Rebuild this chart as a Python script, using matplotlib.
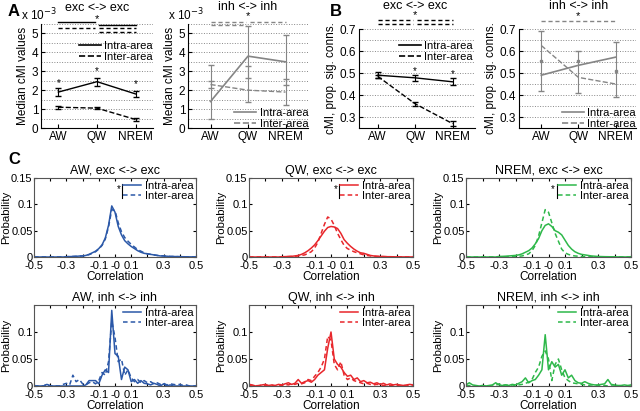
import numpy as np
import matplotlib
matplotlib.use('Agg')
import matplotlib.pyplot as plt
from matplotlib.lines import Line2D

plt.rcParams['font.family'] = ['Liberation Sans', 'DejaVu Sans']
plt.rcParams['font.size'] = 8.5
plt.rcParams['axes.linewidth'] = 0.8

# ---- data ----
states = ['AW', 'QW', 'NREM']

# A: median cMI values (x 10^-3)
a_exc_intra = [1.9, 2.45, 1.8]
a_exc_intra_err = [0.2, 0.22, 0.18]
a_exc_inter = [1.1, 1.05, 0.45]
a_exc_inter_err = [0.07, 0.07, 0.06]
a_inh_intra = [1.4, 3.8, 3.5]
a_inh_intra_lo = [0.5, 1.4, 1.2]
a_inh_intra_hi = [3.35, 5.4, 4.9]
a_inh_inter = [2.3, 2.0, 1.9]
a_inh_inter_lo = [2.1, 2.65, 2.3]
a_inh_inter_hi = [2.5, 3.3, 2.6]

# B: cMI, proportion of significant connections
b_exc_intra = [0.49, 0.478, 0.46]
b_exc_intra_err = [0.013, 0.015, 0.015]
b_exc_inter = [0.485, 0.36, 0.27]
b_exc_inter_err = [0.008, 0.01, 0.01]
b_inh_intra = [0.49, 0.535, 0.572]
b_inh_intra_lo = [0.42, 0.41, 0.39]
b_inh_intra_hi = [0.69, 0.60, 0.64]
b_inh_inter = [0.625, 0.48, 0.45]
b_inh_mark = [0.555, 0.555, 0.51]

# C: correlation histograms, bin centres -0.5 .. 0.5 (step 0.02)
corr = np.linspace(-0.5, 0.5, 51)

aw_exc_intra = [0, 0, 0, 0, 0, 0, 0, 0, 0, 0,
                0.0005, 0.0008, 0.001, 0.0013, 0.0018,
                0.002, 0.003, 0.005, 0.008, 0.011,
                0.016, 0.023, 0.036, 0.06, 0.097,
                0.085, 0.058, 0.042, 0.031, 0.025,
                0.02, 0.016, 0.012, 0.009, 0.007,
                0.006, 0.005, 0.004, 0.003, 0.002,
                0.002, 0.0015, 0.001, 0.001, 0.0008,
                0.0006, 0.0005, 0.0004, 0.0003, 0.0002, 0.0001]
aw_exc_inter = [0, 0, 0, 0, 0, 0, 0, 0, 0, 0,
                0.0005, 0.0008, 0.001, 0.0013, 0.0017,
                0.002, 0.003, 0.0045, 0.007, 0.01,
                0.015, 0.022, 0.034, 0.057, 0.09,
                0.088, 0.065, 0.048, 0.037, 0.03,
                0.024, 0.019, 0.014, 0.011, 0.008,
                0.006, 0.005, 0.004, 0.003, 0.0025,
                0.002, 0.0015, 0.001, 0.001, 0.0008,
                0.0006, 0.0005, 0.0004, 0.0003, 0.0002, 0.0001]
qw_exc_intra = [0, 0, 0, 0, 0, 0, 0, 0, 0, 0,
                0.0005, 0.0007, 0.001, 0.0013, 0.002,
                0.003, 0.005, 0.008, 0.012, 0.017,
                0.023, 0.031, 0.04, 0.049, 0.056,
                0.058, 0.057, 0.054, 0.045, 0.033,
                0.026, 0.02, 0.015, 0.011, 0.008,
                0.007, 0.005, 0.003, 0.002, 0.0015,
                0.001, 0.0008, 0.0006, 0.0005, 0.0004,
                0.0003, 0.0002, 0.0002, 0.0001, 0.0001, 0.0001]
qw_exc_inter = [0, 0, 0, 0, 0, 0, 0, 0, 0, 0,
                0.0003, 0.0005, 0.0007, 0.001, 0.0013,
                0.002, 0.003, 0.004, 0.007, 0.01,
                0.017, 0.028, 0.045, 0.062, 0.076,
                0.072, 0.06, 0.045, 0.033, 0.022,
                0.016, 0.013, 0.01, 0.008, 0.006,
                0.004, 0.003, 0.002, 0.0015, 0.001,
                0.001, 0.0008, 0.0006, 0.0005, 0.0004,
                0.0003, 0.0002, 0.0002, 0.0001, 0.0001, 0.0001]
nrem_exc_intra = [0, 0, 0, 0, 0, 0, 0, 0, 0, 0,
                  0.001, 0.0012, 0.0015, 0.002, 0.0025,
                  0.003, 0.004, 0.006, 0.009, 0.012,
                  0.017, 0.025, 0.035, 0.05, 0.06,
                  0.063, 0.058, 0.05, 0.047, 0.042,
                  0.032, 0.022, 0.015, 0.01, 0.007,
                  0.005, 0.004, 0.003, 0.002, 0.0015,
                  0.001, 0.0008, 0.0006, 0.0005, 0.0004,
                  0.0003, 0.0002, 0.0002, 0.0001, 0.0001, 0.0001]
nrem_exc_inter = [0, 0, 0, 0, 0, 0, 0, 0, 0, 0,
                  0.0003, 0.0004, 0.0005, 0.0007, 0.0008,
                  0.001, 0.0015, 0.002, 0.004, 0.006,
                  0.012, 0.022, 0.04, 0.065, 0.09,
                  0.085, 0.065, 0.045, 0.03, 0.015,
                  0.008, 0.005, 0.003, 0.002, 0.0015,
                  0.001, 0.0008, 0.0006, 0.0005, 0.0004,
                  0.0003, 0.0002, 0.0002, 0.0001, 0.0001,
                  0, 0, 0, 0, 0, 0]

aw_inh_intra = [0, 0, 0, 0, 0.003, 0, 0, 0, 0, 0,
                0, 0, 0, 0, 0,
                0, 0.002, 0.01, 0.01, 0.01,
                0.004, 0.02, 0.03, 0.025, 0.14,
                0.06, 0.055, 0.012, 0.035, 0.03,
                0.008, 0.012, 0.005, 0.01, 0.005,
                0.004, 0.002, 0.005, 0.003, 0,
                0.004, 0, 0.002, 0, 0,
                0, 0, 0, 0, 0, 0]
aw_inh_inter = [0, 0, 0, 0, 0.004, 0, 0, 0, 0, 0.003,
                0.005, 0.002, 0.02, 0.008, 0.012,
                0.004, 0.002, 0.006, 0.008, 0.004,
                0.01, 0.025, 0.02, 0.045, 0.12,
                0.09, 0.045, 0.05, 0.02, 0.03,
                0.015, 0.008, 0.012, 0.006, 0.01,
                0.006, 0.008, 0.004, 0.006, 0.003,
                0.005, 0.002, 0.004, 0.003, 0.002,
                0.003, 0.001, 0.002, 0, 0, 0]
qw_inh_intra = [0.003, 0.002, 0, 0.001, 0.002, 0.003, 0.001, 0.002, 0.001, 0.003,
                0.002, 0.004, 0.006, 0.003, 0.005,
                0.012, 0.005, 0.008, 0.01, 0.007,
                0.012, 0.02, 0.025, 0.03, 0.07,
                0.1, 0.05, 0.04, 0.035, 0.025,
                0.018, 0.02, 0.012, 0.015, 0.008,
                0.01, 0.006, 0.007, 0.004, 0.006,
                0.003, 0.005, 0.002, 0.004, 0.002,
                0.003, 0.002, 0.001, 0.002, 0.003, 0.002]
qw_inh_inter = [0.001, 0, 0.001, 0, 0.002, 0.001, 0, 0.001, 0, 0.002,
                0.001, 0.003, 0.002, 0.004, 0.003,
                0.005, 0.004, 0.006, 0.012, 0.01,
                0.018, 0.025, 0.035, 0.05, 0.092,
                0.085, 0.04, 0.03, 0.045, 0.02,
                0.012, 0.015, 0.01, 0.008, 0.006,
                0.004, 0.005, 0.003, 0.002, 0.003,
                0.002, 0.001, 0.002, 0.001, 0.001,
                0.001, 0, 0.001, 0, 0.001, 0]
nrem_inh_intra = [0.002, 0.006, 0.002, 0.001, 0, 0.001, 0, 0.001, 0.002, 0.006,
                  0.002, 0.001, 0.002, 0.001, 0.003,
                  0.002, 0.005, 0.008, 0.015, 0.006,
                  0.01, 0.012, 0.02, 0.03, 0.095,
                  0.03, 0.045, 0.035, 0.04, 0.02,
                  0.03, 0.015, 0.02, 0.01, 0.006,
                  0.005, 0.008, 0.005, 0.003, 0.002,
                  0.002, 0.003, 0.004, 0.012, 0.003,
                  0.002, 0.001, 0.001, 0.002, 0.001, 0.002]
nrem_inh_inter = [0, 0.001, 0, 0, 0, 0, 0, 0, 0, 0.001,
                  0.004, 0.001, 0.002, 0.001, 0.002,
                  0.001, 0.002, 0.003, 0.005, 0.007,
                  0.012, 0.025, 0.035, 0.055, 0.065,
                  0.05, 0.01, 0.04, 0.05, 0.03,
                  0.015, 0.01, 0.006, 0.005, 0.004,
                  0.003, 0.002, 0.001, 0.002, 0.001,
                  0.001, 0, 0.001, 0, 0,
                  0, 0, 0, 0, 0, 0]

blue = '#2b58a8'
red = '#e8262b'
green = '#2eb84a'
gray = '#858585'

W, H = 640, 411
fig = plt.figure(figsize=(6.4, 4.11), dpi=100)


def px_axes(l, t, r, b):
    return fig.add_axes([l / W, 1 - b / H, (r - l) / W, (b - t) / H])


def style_ab(ax, ylim, yticks, grid_step, xlim):
    ax.set_xlim(xlim)
    ax.set_ylim(ylim)
    ax.set_xticks([1, 2, 3])
    ax.set_xticklabels(states)
    ax.set_yticks(yticks)
    minor = np.arange(ylim[0], ylim[1] + 1e-9, grid_step)
    ax.set_yticks(minor, minor=True)
    ax.yaxis.grid(True, which='both', ls=':', color='#888888', lw=0.7)
    ax.tick_params(which='minor', length=0)
    ax.tick_params(direction='in', length=3, labelsize=8.5, pad=2)
    ax.spines['top'].set_visible(False)
    ax.spines['right'].set_visible(False)
    ax.set_axisbelow(True)


def sig_line(ax, x0, x1, y, color, ls):
    if ls == '--':
        ax.plot([x0, x1], [y, y], color=color, lw=1, ls='--', dashes=(3, 2), clip_on=False)
    else:
        ax.plot([x0, x1], [y, y], color=color, lw=1, clip_on=False)


def leg(ax, color, **kw):
    handles = [Line2D([], [], color=color, lw=1.2),
               Line2D([], [], color=color, lw=1.2, ls='--')]
    return ax.legend(handles, ['Intra-area', 'Inter-area'], frameon=False, fontsize=8,
                     handlelength=2.0, handletextpad=0.3, labelspacing=0.1,
                     borderpad=0.1, borderaxespad=0.1, **kw)


# ---- A left ----
ax = px_axes(41, 24, 153, 128)
ax.errorbar([1, 2, 3], a_exc_intra, yerr=a_exc_intra_err, color='k', lw=1,
            capsize=2, elinewidth=0.8)
ax.errorbar([1, 2, 3], a_exc_inter, yerr=a_exc_inter_err, color='k', lw=1, ls='--',
            capsize=2, elinewidth=0.8)
for x, y in zip([1, 2, 3], [2.4, 3.0, 2.3]):
    ax.text(x, y, '*', ha='center', va='center', fontsize=7)
style_ab(ax, (0, 5.5), [0, 1, 2, 3, 4, 5], 0.5, (0.55, 3.45))
ax.set_ylabel('Median cMI values', labelpad=2)
leg(ax, 'k', loc='upper right', bbox_to_anchor=(1.02, 0.86))
sig_line(ax, 1.0, 1.95, 5.6, 'k', '-')
sig_line(ax, 2.05, 3.0, 5.47, 'k', '-')
sig_line(ax, 1.0, 1.95, 5.28, 'k', '--')
sig_line(ax, 2.05, 3.0, 5.28, 'k', '--')
sig_line(ax, 2.05, 3.0, 5.08, 'k', '--')
ax.text(2.0, 5.75, '*', ha='center', va='center', fontsize=8)
ax.text(2.0, 6.35, 'exc <-> exc', ha='center', va='center', fontsize=9)
ax.text(-0.02, 1.01, r'x 10$^{-3}$', transform=ax.transAxes, ha='center',
        va='bottom', fontsize=8.5)

# ---- A right ----
ax = px_axes(188, 24, 308, 128)
ax.errorbar([1, 2, 3], a_inh_intra,
            yerr=[np.subtract(a_inh_intra, a_inh_intra_lo), np.subtract(a_inh_intra_hi, a_inh_intra)],
            color=gray, lw=1.2, capsize=2, elinewidth=0.8)
ax.plot([1, 2, 3], a_inh_inter, color=gray, lw=1, ls='--')
ax.errorbar([1, 2, 3], np.add(a_inh_inter_lo, a_inh_inter_hi) / 2,
            yerr=np.subtract(a_inh_inter_hi, a_inh_inter_lo) / 2, fmt='none',
            ecolor=gray, capsize=2, elinewidth=0.8)
style_ab(ax, (0, 5.5), [0, 1, 2, 3, 4, 5], 0.5, (0.4, 3.6))
ax.set_ylabel('Median cMI values', labelpad=2)
leg(ax, gray, loc='lower right', bbox_to_anchor=(1.02, -0.03))
sig_line(ax, 1.0, 1.95, 5.62, gray, '--')
sig_line(ax, 1.0, 1.95, 5.45, gray, '--')
sig_line(ax, 2.05, 3.0, 5.62, gray, '--')
ax.text(2.0, 5.9, '*', ha='center', va='center', fontsize=8)
ax.text(2.0, 6.42, 'inh <-> inh', ha='center', va='center', fontsize=9)
ax.text(-0.02, 1.01, r'x 10$^{-3}$', transform=ax.transAxes, ha='center',
        va='bottom', fontsize=8.5)

# ---- B left ----
ax = px_axes(359, 29, 475, 128)
ax.errorbar([1, 2, 3], b_exc_intra, yerr=b_exc_intra_err, color='k', lw=1,
            capsize=2, elinewidth=0.8)
ax.errorbar([1, 2, 3], b_exc_inter, yerr=b_exc_inter_err, color='k', lw=1, ls='--',
            capsize=2, elinewidth=0.8)
for x, y in zip([2, 3], [0.51, 0.495]):
    ax.text(x, y, '*', ha='center', va='center', fontsize=7)
style_ab(ax, (0.25, 0.7), [0.3, 0.4, 0.5, 0.6, 0.7], 0.05, (0.5, 3.6))
ax.set_ylabel('cMI, prop. sig. conns.', labelpad=2)
leg(ax, 'k', loc='upper right', bbox_to_anchor=(1.0, 0.9))
sig_line(ax, 1.0, 1.95, 0.742, 'k', '--')
sig_line(ax, 1.0, 1.95, 0.724, 'k', '--')
sig_line(ax, 2.05, 3.0, 0.742, 'k', '--')
sig_line(ax, 2.05, 3.0, 0.724, 'k', '--')
ax.text(2.0, 0.763, '*', ha='center', va='center', fontsize=8)
ax.text(2.0, 0.803, 'exc <-> exc', ha='center', va='center', fontsize=9)

# ---- B right ----
ax = px_axes(519, 29, 636, 128)
ax.errorbar([1, 2, 3], b_inh_intra,
            yerr=[np.subtract(b_inh_intra, b_inh_intra_lo), np.subtract(b_inh_intra_hi, b_inh_intra)],
            color=gray, lw=1.2, capsize=2, elinewidth=0.8)
ax.plot([1, 2, 3], b_inh_inter, color=gray, lw=1, ls='--')
ax.plot([1, 2, 3], b_inh_mark, ls='none', marker='s', ms=2, color=gray)
style_ab(ax, (0.25, 0.7), [0.3, 0.4, 0.5, 0.6, 0.7], 0.05, (0.4, 3.55))
ax.set_ylabel('cMI, prop. sig. conns.', labelpad=2)
leg(ax, gray, loc='lower right', bbox_to_anchor=(1.02, -0.03))
sig_line(ax, 1.0, 3.0, 0.737, gray, '--')
ax.text(2.0, 0.758, '*', ha='center', va='center', fontsize=8)
ax.text(2.0, 0.803, 'inh <-> inh', ha='center', va='center', fontsize=9)

# ---- C ----
rows = [
    [('AW, exc <-> exc', aw_exc_intra, aw_exc_inter, blue),
     ('QW, exc <-> exc', qw_exc_intra, qw_exc_inter, red),
     ('NREM, exc <-> exc', nrem_exc_intra, nrem_exc_inter, green)],
    [('AW, inh <-> inh', aw_inh_intra, aw_inh_inter, blue),
     ('QW, inh <-> inh', qw_inh_intra, qw_inh_inter, red),
     ('NREM, inh <-> inh', nrem_inh_intra, nrem_inh_inter, green)],
]
col_px = [(34, 196), (249, 413), (466, 631)]
row_px = [(178, 257), (305, 386)]
c_axes = []
xt = np.round(np.arange(-0.5, 0.51, 0.1), 1)
for r, row in enumerate(rows):
    for c, (title, intra, inter, col) in enumerate(row):
        ax = px_axes(col_px[c][0], row_px[r][0], col_px[c][1], row_px[r][1])
        ax.plot(corr, intra, color=col, lw=1.1)
        ax.plot(corr, inter, color=col, lw=1.1, ls='--', dashes=(3, 2))
        ax.set_xlim(-0.5, 0.5)
        ax.set_ylim(0, 0.15)
        ax.set_xticks(xt)
        ax.set_xticklabels(['%g' % v if round(abs(v), 1) in (0.5, 0.3, 0.1, 0.0) else ''
                            for v in xt])
        if r == 0:
            ax.set_yticks([0, 0.05, 0.1, 0.15])
            ax.set_yticklabels(['0', '0.05', '0.1', '0.15'])
        else:
            ax.set_yticks([0, 0.05, 0.1])
            ax.set_yticklabels(['0', '0.05', '0.1'])
        ax.tick_params(direction='in', length=2.5, labelsize=8, top=True, right=True)
        ax.tick_params(axis='y', pad=1)
        ax.tick_params(axis='x', pad=3)
        for s in ax.spines.values():
            s.set_color('#555555')
        ax.set_xlabel('Correlation', fontsize=8.5, labelpad=0)
        ax.set_ylabel('Probability', fontsize=8.2, labelpad=0)
        ax.set_title(title, fontsize=9, pad=3)
        handles = [Line2D([], [], color=col, lw=1.1),
                   Line2D([], [], color=col, lw=1.1, ls='--', dashes=(3, 2))]
        lg = ax.legend(handles, ['Intra-area', 'Inter-area'], frameon=False, fontsize=8,
                       handlelength=1.6, handletextpad=0.3, labelspacing=0.05,
                       borderpad=0.1, borderaxespad=0.15, loc='upper right')
        c_axes.append((ax, lg, r))

fig.canvas.draw()
for ax, lg, r in c_axes:
    if r != 0:
        continue
    bb = lg.get_window_extent().transformed(ax.transAxes.inverted())
    xb = bb.x0 - 0.005
    ax.plot([xb, xb], [bb.y0 + 0.05, bb.y1 - 0.05], color='k', lw=0.8,
            transform=ax.transAxes, clip_on=False)
    ax.text(xb - 0.02, (bb.y0 + bb.y1) / 2 + 0.03, '*', transform=ax.transAxes,
            ha='center', va='center', fontsize=7)

# panel letters
fig.text(8 / W, 1 - 12 / H, 'A', fontsize=12, fontweight='bold', va='center')
fig.text(330 / W, 1 - 12 / H, 'B', fontsize=12, fontweight='bold', va='center')
fig.text(8 / W, 1 - 160 / H, 'C', fontsize=12, fontweight='bold', va='center')

fig.savefig('out.png', dpi=100)
